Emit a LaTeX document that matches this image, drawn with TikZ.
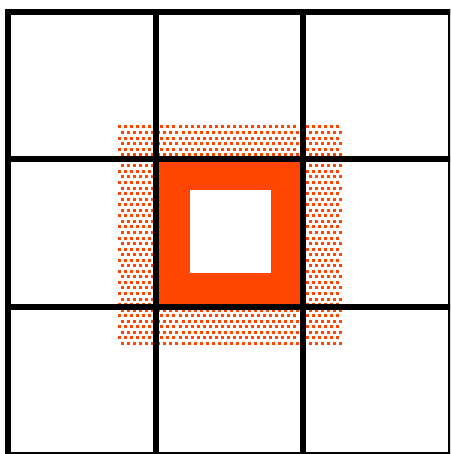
\documentclass[tikz,border=0pt]{standalone}
\definecolor{org}{HTML}{FF4500}
\begin{document}
\begin{tikzpicture}[x=1pt,y=-1pt,
  gridline/.style={line width=6pt,draw=black,line cap=rect},
  dotfill/.style={fill=org},
  hotcell/.style={fill=org},
  holecell/.style={fill=white}]
\useasboundingbox (0,0) rectangle (450,454);
\begin{scope}
\clip (0,0) rectangle (450,454);
\fill[white] (0,0) rectangle (450,454);
% dotted halo
\foreach \j in {0,...,39} {
  \pgfmathsetmacro{\yy}{125.5+\j*5.55}
  \pgfmathsetmacro{\off}{mod(\j,2)*3}
  \foreach \i in {0,...,36} {
    \pgfmathsetmacro{\xx}{118+\off+\i*6.05}
    \fill[dotfill] (\xx,\yy) rectangle ++(3,3);
  }
}
% centre cell
\fill[hotcell] (155.5,159.5) rectangle (303,307);
\fill[holecell] (190,189.5) rectangle (270.5,273);
% grid
\foreach \x in {8,155.5,303,450.5} \draw[gridline] (\x,12) -- (\x,454.5);
\foreach \y in {12,159.5,307,454.5} \draw[gridline] (8,\y) -- (450.5,\y);
\end{scope}
\end{tikzpicture}
\end{document}
